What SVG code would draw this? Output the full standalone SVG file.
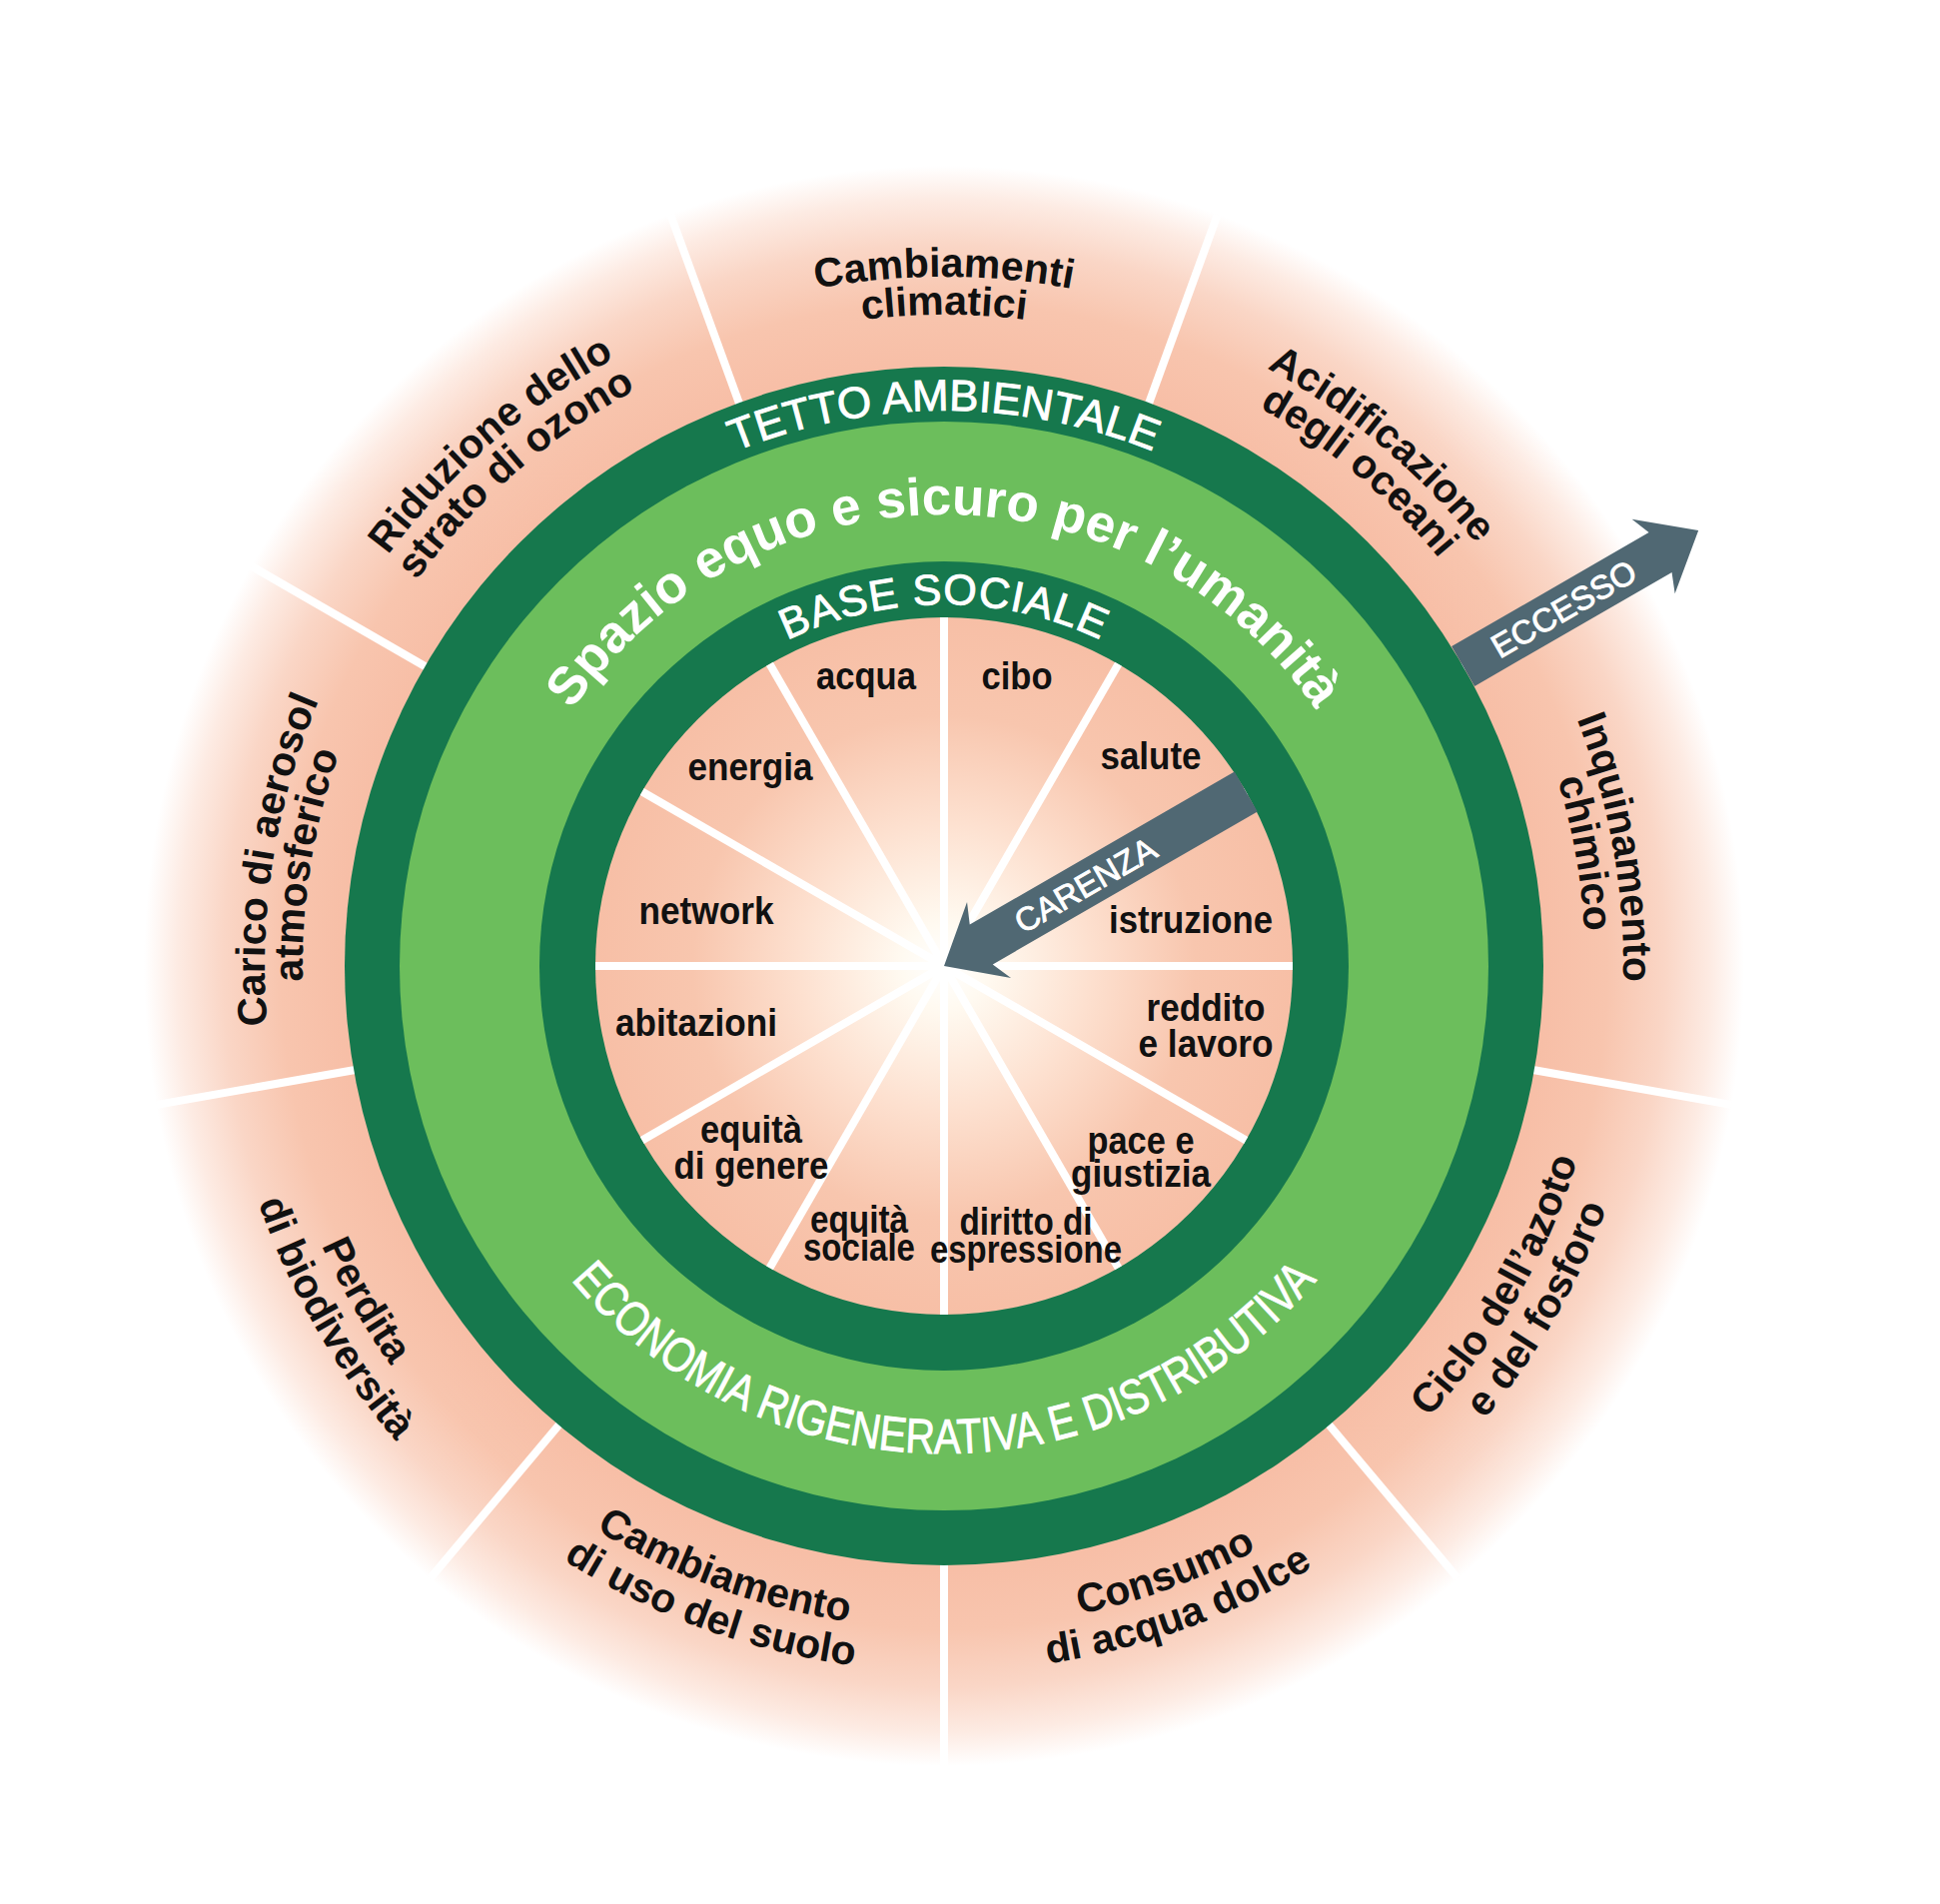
<svg xmlns="http://www.w3.org/2000/svg" width="1942" height="1906" viewBox="0 0 1942 1906">
<style>
.lbl{font-family:"Liberation Sans",Arial,sans-serif;font-weight:bold;fill:#111111;}
.outer{font-size:41px;}
.inner{font-size:38px;}
.band{font-family:"Liberation Sans",Arial,sans-serif;fill:#ffffff;}
.thick{stroke:#ffffff;stroke-width:0.9;}
.spoke{stroke:#ffffff;stroke-width:8;}
.arrow{fill:#506873;}
</style>
<defs>
<radialGradient id="outerGrad" gradientUnits="userSpaceOnUse" cx="945" cy="967" r="830">
<stop offset="0.72" stop-color="#f7bea6"/>
<stop offset="0.8" stop-color="#f8c5ae"/>
<stop offset="0.87" stop-color="#fad6c6"/>
<stop offset="0.925" stop-color="#fdebe3"/>
<stop offset="0.965" stop-color="#ffffff"/>
</radialGradient>
<radialGradient id="innerGrad" gradientUnits="userSpaceOnUse" cx="945" cy="967" r="349">
<stop offset="0" stop-color="#ffffff"/>
<stop offset="0.12" stop-color="#fffaf1"/>
<stop offset="0.42" stop-color="#fde0cf"/>
<stop offset="0.72" stop-color="#f8c6ae"/>
<stop offset="1" stop-color="#f7bfa6"/>
</radialGradient>
<path id="t692" d="M263.51,846.83 A692,692 0 0 1 1626.49,846.83"/>
<path id="t690" d="M265.48,847.18 A690,690 0 0 1 1624.52,847.18"/>
<path id="t680" d="M275.33,848.92 A680,680 0 0 1 1614.67,848.92"/>
<path id="t654" d="M300.93,853.43 A654,654 0 0 1 1589.07,853.43"/>
<path id="t652" d="M302.90,853.78 A652,652 0 0 1 1587.10,853.78"/>
<path id="t642" d="M312.76,855.52 A642,642 0 0 1 1577.24,855.52"/>
<path id="t452" d="M499.87,888.51 A452,452 0 0 1 1390.13,888.51"/>
<path id="t556" d="M397.45,870.45 A556,556 0 0 1 1492.55,870.45"/>
<path id="t362" d="M588.50,904.14 A362,362 0 0 1 1301.50,904.14"/>
<path id="b663" d="M292.07,1082.13 A663,663 0 0 0 1597.93,1082.13"/>
<path id="b706" d="M249.72,1089.60 A706,706 0 0 0 1640.28,1089.60"/>
<path id="b683" d="M272.38,1085.60 A683,683 0 0 0 1617.62,1085.60"/>
<path id="b726" d="M230.03,1093.07 A726,726 0 0 0 1659.97,1093.07"/>
<path id="b488" d="M464.41,1051.74 A488,488 0 0 0 1425.59,1051.74"/>
</defs>
<rect width="1942" height="1906" fill="#ffffff"/>

<g id="background">
<circle cx="945" cy="967" r="830" fill="url(#outerGrad)"/>
</g>

<g id="outer-spokes">
<line class="spoke" x1="945" y1="377" x2="945" y2="167" transform="rotate(20 945 967)"/>
<line class="spoke" x1="945" y1="377" x2="945" y2="167" transform="rotate(60 945 967)"/>
<line class="spoke" x1="945" y1="377" x2="945" y2="167" transform="rotate(100 945 967)"/>
<line class="spoke" x1="945" y1="377" x2="945" y2="167" transform="rotate(140 945 967)"/>
<line class="spoke" x1="945" y1="377" x2="945" y2="167" transform="rotate(180 945 967)"/>
<line class="spoke" x1="945" y1="377" x2="945" y2="167" transform="rotate(220 945 967)"/>
<line class="spoke" x1="945" y1="377" x2="945" y2="167" transform="rotate(260 945 967)"/>
<line class="spoke" x1="945" y1="377" x2="945" y2="167" transform="rotate(300 945 967)"/>
<line class="spoke" x1="945" y1="377" x2="945" y2="167" transform="rotate(340 945 967)"/>
</g>

<g id="rings">
<circle id="ceiling-ring" cx="945" cy="967" r="600" fill="#16784d"/>
<circle id="safe-space" cx="945" cy="967" r="545" fill="#6cbe5c"/>
<circle id="foundation-ring" cx="945" cy="967" r="405" fill="#16784d"/>
<circle id="shortfall-area" cx="945" cy="967" r="349" fill="url(#innerGrad)"/>
</g>

<g id="inner-spokes">
<line class="spoke" x1="945" y1="967" x2="945" y2="618" transform="rotate(0 945 967)"/>
<line class="spoke" x1="945" y1="967" x2="945" y2="618" transform="rotate(30 945 967)"/>
<line class="spoke" x1="945" y1="967" x2="945" y2="618" transform="rotate(60 945 967)"/>
<line class="spoke" x1="945" y1="967" x2="945" y2="618" transform="rotate(90 945 967)"/>
<line class="spoke" x1="945" y1="967" x2="945" y2="618" transform="rotate(120 945 967)"/>
<line class="spoke" x1="945" y1="967" x2="945" y2="618" transform="rotate(150 945 967)"/>
<line class="spoke" x1="945" y1="967" x2="945" y2="618" transform="rotate(180 945 967)"/>
<line class="spoke" x1="945" y1="967" x2="945" y2="618" transform="rotate(210 945 967)"/>
<line class="spoke" x1="945" y1="967" x2="945" y2="618" transform="rotate(240 945 967)"/>
<line class="spoke" x1="945" y1="967" x2="945" y2="618" transform="rotate(270 945 967)"/>
<line class="spoke" x1="945" y1="967" x2="945" y2="618" transform="rotate(300 945 967)"/>
<line class="spoke" x1="945" y1="967" x2="945" y2="618" transform="rotate(330 945 967)"/>
</g>

<g id="connectors">
<g id="arrow-carenza" transform="translate(945,967) rotate(-30)">
<path class="arrow" d="M0,0 L52,-44 L43,-23 L349,-23 L349,23 L43,23 L52,44 Z"/>
<text class="band thick" x="163" y="12" font-size="33" text-anchor="middle">CARENZA</text>
</g>
<g id="arrow-eccesso" transform="translate(945,967) rotate(-30)">
<path class="arrow" d="M600,-23 L828,-23 L820,-43 L872,0 L820,43 L828,23 L600,23 Z"/>
<text class="band thick" x="716" y="12" font-size="33" text-anchor="middle">ECCESSO</text>
</g>
</g>

<g id="band-labels">
<text id="tetto" class="band thick" font-size="44"><textPath href="#t556" startOffset="50%" text-anchor="middle">TETTO AMBIENTALE</textPath></text>
<text id="titolo" class="band" font-size="53" font-weight="bold"><textPath href="#t452" startOffset="50%" text-anchor="middle">Spazio equo e sicuro per l’umanità</textPath></text>
<text id="base" class="band thick" font-size="43" letter-spacing="1"><textPath href="#t362" startOffset="50%" text-anchor="middle">BASE SOCIALE</textPath></text>
<text id="economia" class="band thick" font-size="49"><textPath href="#b488" startOffset="50%" text-anchor="middle" textLength="850" lengthAdjust="spacingAndGlyphs">ECONOMIA RIGENERATIVA E DISTRIBUTIVA</textPath></text>
</g>

<g id="boundary-labels" class="lbl outer">
<g id="cambiamenti-climatici">
<text><textPath href="#t690" startOffset="50%" text-anchor="middle">Cambiamenti</textPath></text>
<text><textPath href="#t652" startOffset="50%" text-anchor="middle">climatici</textPath></text>
</g>
<g id="acidificazione" transform="rotate(40 945 967)">
<text><textPath href="#t680" startOffset="50%" text-anchor="middle">Acidificazione</textPath></text>
<text><textPath href="#t642" startOffset="50%" text-anchor="middle">degli oceani</textPath></text>
</g>
<g id="inquinamento" transform="rotate(80 945 967)">
<text><textPath href="#t680" startOffset="50%" text-anchor="middle">Inquinamento</textPath></text>
<text><textPath href="#t642" startOffset="50%" text-anchor="middle">chimico</textPath></text>
</g>
<g id="ciclo" transform="rotate(-60 945 967)">
<text><textPath href="#b663" startOffset="50%" text-anchor="middle">Ciclo dell’azoto</textPath></text>
<text><textPath href="#b706" startOffset="50%" text-anchor="middle">e del fosforo</textPath></text>
</g>
<g id="consumo" transform="rotate(-20 945 967)">
<text><textPath href="#b663" startOffset="50%" text-anchor="middle">Consumo</textPath></text>
<text><textPath href="#b706" startOffset="50%" text-anchor="middle">di acqua dolce</textPath></text>
</g>
<g id="uso-suolo" transform="rotate(20 945 967)">
<text><textPath href="#b663" startOffset="50%" text-anchor="middle">Cambiamento</textPath></text>
<text><textPath href="#b706" startOffset="50%" text-anchor="middle">di uso del suolo</textPath></text>
</g>
<g id="biodiversita" transform="rotate(60 945 967)">
<text><textPath href="#b683" startOffset="50%" text-anchor="middle">Perdita</textPath></text>
<text><textPath href="#b726" startOffset="50%" text-anchor="middle">di biodiversità</textPath></text>
</g>
<g id="aerosol" transform="rotate(-81 945 967)">
<text><textPath href="#t680" startOffset="50%" text-anchor="middle">Carico di aerosol</textPath></text>
<text><textPath href="#t642" startOffset="50%" text-anchor="middle">atmosferico</textPath></text>
</g>
<g id="ozono" transform="rotate(-41 945 967)">
<text><textPath href="#t692" startOffset="50%" text-anchor="middle">Riduzione dello</textPath></text>
<text><textPath href="#t654" startOffset="50%" text-anchor="middle">strato di ozono</textPath></text>
</g>
</g>

<g id="social-labels" class="lbl inner" text-anchor="middle">
<g id="acqua"><text x="867" y="690" textLength="100" lengthAdjust="spacingAndGlyphs">acqua</text></g>
<g id="cibo"><text x="1018" y="690" textLength="71" lengthAdjust="spacingAndGlyphs">cibo</text></g>
<g id="salute"><text x="1152" y="770" textLength="101" lengthAdjust="spacingAndGlyphs">salute</text></g>
<g id="energia"><text x="751" y="781" textLength="125" lengthAdjust="spacingAndGlyphs">energia</text></g>
<g id="network"><text x="707" y="925" textLength="135" lengthAdjust="spacingAndGlyphs">network</text></g>
<g id="istruzione"><text x="1192" y="934" textLength="164" lengthAdjust="spacingAndGlyphs">istruzione</text></g>
<g id="abitazioni"><text x="697" y="1037" textLength="162" lengthAdjust="spacingAndGlyphs">abitazioni</text></g>
<g id="reddito"><text x="1207" y="1022" textLength="119" lengthAdjust="spacingAndGlyphs">reddito</text><text x="1207" y="1058" textLength="135" lengthAdjust="spacingAndGlyphs">e lavoro</text></g>
<g id="genere"><text x="752" y="1144" textLength="102" lengthAdjust="spacingAndGlyphs">equità</text><text x="752" y="1180" textLength="155" lengthAdjust="spacingAndGlyphs">di genere</text></g>
<g id="pace"><text x="1142" y="1155" textLength="107" lengthAdjust="spacingAndGlyphs">pace e</text><text x="1142" y="1188" textLength="140" lengthAdjust="spacingAndGlyphs">giustizia</text></g>
<g id="sociale"><text x="860" y="1234" textLength="98" lengthAdjust="spacingAndGlyphs">equità</text><text x="860" y="1262" textLength="112" lengthAdjust="spacingAndGlyphs">sociale</text></g>
<g id="espressione"><text x="1027" y="1236" textLength="133" lengthAdjust="spacingAndGlyphs">diritto di</text><text x="1027" y="1264" textLength="192" lengthAdjust="spacingAndGlyphs">espressione</text></g>
</g>
</svg>
